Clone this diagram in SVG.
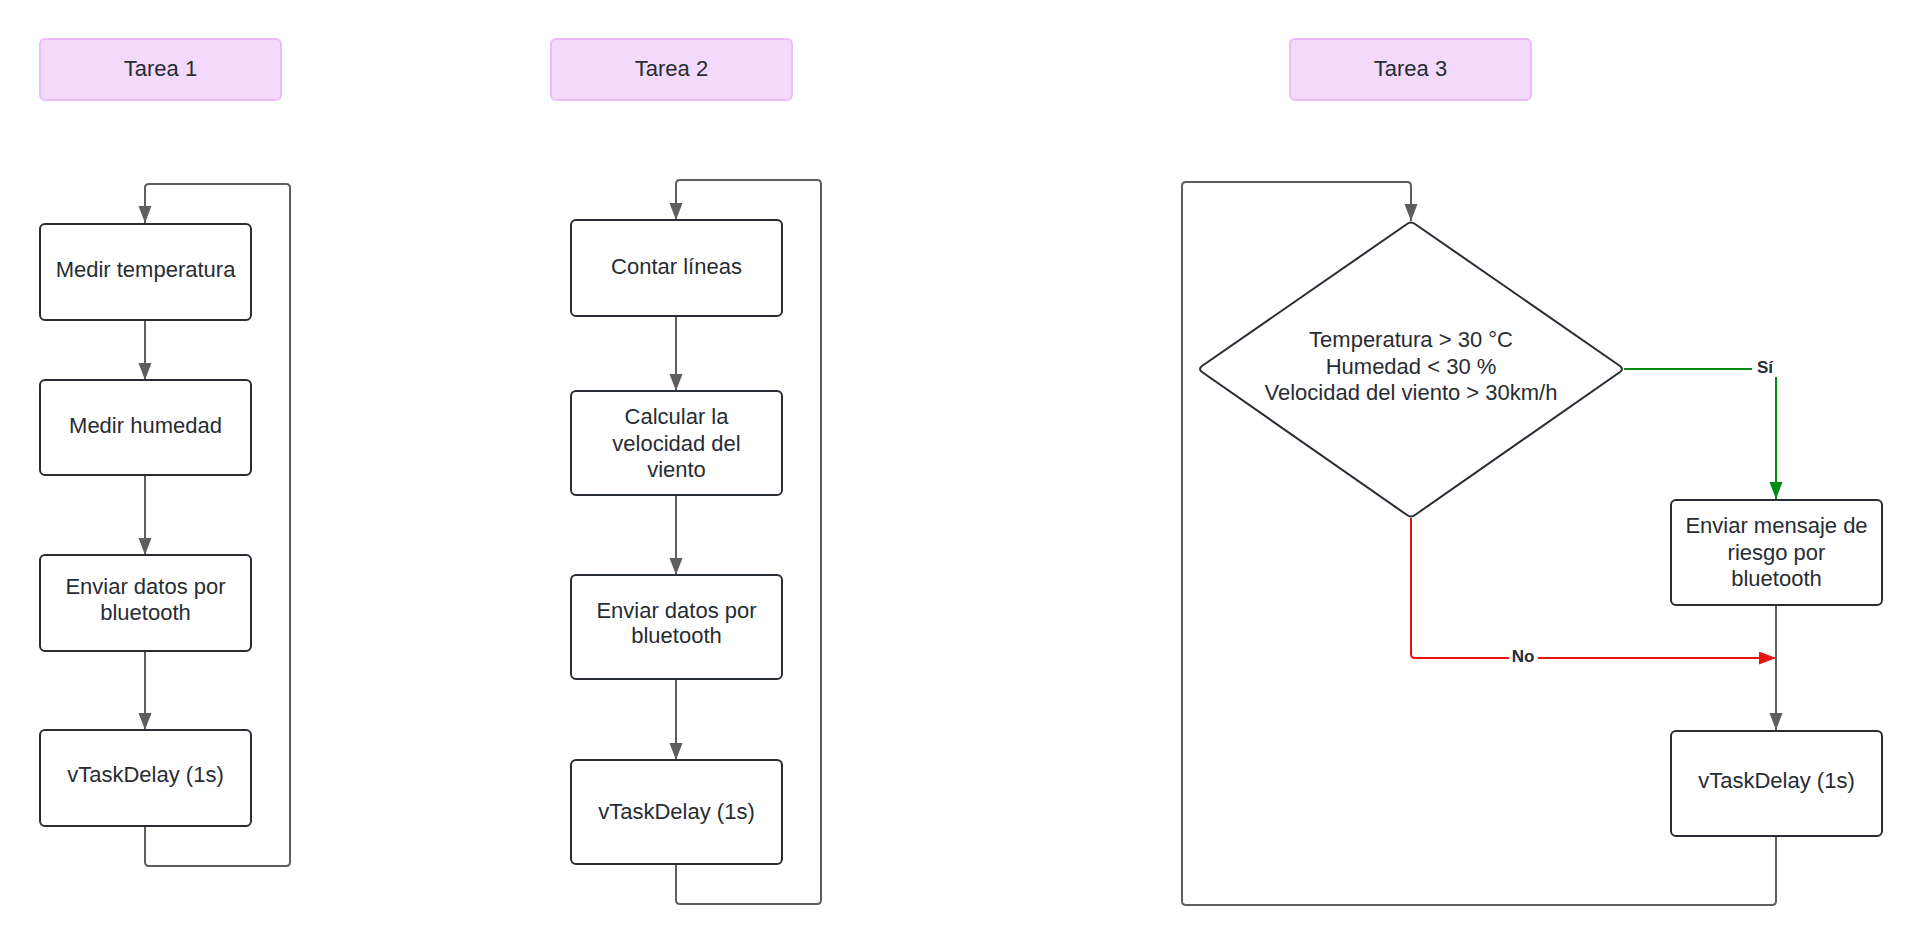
<svg xmlns="http://www.w3.org/2000/svg" width="1921" height="946" viewBox="0 0 1921 946">
<style>
.bg{fill:#ffffff}
.title rect{fill:#f3d9fb;stroke:#ebbdf8;stroke-width:2}
.node rect,.node path{fill:#ffffff;stroke:#282c33;stroke-width:2}
text{font-family:"Liberation Sans",Arial,sans-serif;font-size:22px;fill:#282c33;text-anchor:middle}
.conn path{fill:none;stroke:#5e5e5e;stroke-width:2;stroke-linejoin:round}
.conn path.g{stroke:#008a0e}
.conn path.r{stroke:#e81313}
.lbl{font-size:17px;font-weight:bold}
</style>
<defs>
<marker id="ag" markerUnits="userSpaceOnUse" markerWidth="18" markerHeight="14" refX="17" refY="6.5" orient="auto"><path d="M0,0 L17,6.5 L0,13 z" fill="#5e5e5e"/></marker>
<marker id="agr" markerUnits="userSpaceOnUse" markerWidth="18" markerHeight="14" refX="17" refY="6.5" orient="auto"><path d="M0,0 L17,6.5 L0,13 z" fill="#008a0e"/></marker>
<marker id="ar" markerUnits="userSpaceOnUse" markerWidth="18" markerHeight="14" refX="17" refY="6.5" orient="auto"><path d="M0,0 L17,6.5 L0,13 z" fill="#e81313"/></marker>
</defs>
<rect class="bg" x="0" y="0" width="1921" height="946"/>

<g id="connectors" class="conn">
<!-- Tarea 1 -->
<path d="M145,320 V380" marker-end="url(#ag)"/>
<path d="M145,475 V555" marker-end="url(#ag)"/>
<path d="M145,651 V730" marker-end="url(#ag)"/>
<path d="M145,826 V862 Q145,866 149,866 H286 Q290,866 290,862 V188 Q290,184 286,184 H149 Q145,184 145,188 V223" marker-end="url(#ag)"/>
<!-- Tarea 2 -->
<path d="M676,316 V391" marker-end="url(#ag)"/>
<path d="M676,495 V575" marker-end="url(#ag)"/>
<path d="M676,679 V760" marker-end="url(#ag)"/>
<path d="M676,864 V900 Q676,904 680,904 H817 Q821,904 821,900 V184 Q821,180 817,180 H680 Q676,180 676,184 V220" marker-end="url(#ag)"/>
<!-- Tarea 3 -->
<path d="M1776,836 V901 Q1776,905 1772,905 H1186 Q1182,905 1182,901 V186 Q1182,182 1186,182 H1407 Q1411,182 1411,186 V221" marker-end="url(#ag)"/>
<path class="g" d="M1624,369 H1772 Q1776,369 1776,373 V499" marker-end="url(#agr)"/>
<path class="r" d="M1411,518 V654 Q1411,658 1415,658 H1776" marker-end="url(#ar)"/>
<path d="M1776,605 V730" marker-end="url(#ag)"/>
<rect x="1752" y="359" width="25" height="18" fill="#ffffff"/>
<text class="lbl" x="1765" y="373">Sí</text>
<rect x="1509" y="648" width="29" height="18" fill="#ffffff"/>
<text class="lbl" x="1523" y="662">No</text>
</g>

<g id="t1" class="title"><rect x="40" y="39" width="241" height="61" rx="5"/><text x="160.5" y="76">Tarea 1</text></g>
<g id="t2" class="title"><rect x="551" y="39" width="241" height="61" rx="5"/><text x="671.5" y="76">Tarea 2</text></g>
<g id="t3" class="title"><rect x="1290" y="39" width="241" height="61" rx="5"/><text x="1410.5" y="76">Tarea 3</text></g>

<g id="n1a" class="node"><rect x="40" y="224" width="211" height="96" rx="5"/><text x="145.5" y="277">Medir temperatura</text></g>
<g id="n1b" class="node"><rect x="40" y="380" width="211" height="95" rx="5"/><text x="145.5" y="433">Medir humedad</text></g>
<g id="n1c" class="node"><rect x="40" y="555" width="211" height="96" rx="5"/><text x="145.5" y="594">Enviar datos por</text><text x="145.5" y="620">bluetooth</text></g>
<g id="n1d" class="node"><rect x="40" y="730" width="211" height="96" rx="5"/><text x="145.5" y="782">vTaskDelay (1s)</text></g>

<g id="n2a" class="node"><rect x="571" y="220" width="211" height="96" rx="5"/><text x="676.5" y="274">Contar líneas</text></g>
<g id="n2b" class="node"><rect x="571" y="391" width="211" height="104" rx="5"/><text x="676.5" y="424">Calcular la</text><text x="676.5" y="450.5">velocidad del</text><text x="676.5" y="477">viento</text></g>
<g id="n2c" class="node"><rect x="571" y="575" width="211" height="104" rx="5"/><text x="676.5" y="618">Enviar datos por</text><text x="676.5" y="643">bluetooth</text></g>
<g id="n2d" class="node"><rect x="571" y="760" width="211" height="104" rx="5"/><text x="676.5" y="819">vTaskDelay (1s)</text></g>

<g id="n3a" class="node"><path d="M1407,224 Q1411,221 1415,224 L1620,366 Q1624,369 1620,372 L1415,515 Q1411,518 1407,515 L1202,372 Q1198,369 1202,366 Z"/><text x="1411" y="347">Temperatura &gt; 30 °C</text><text x="1411" y="373.5">Humedad &lt; 30 %</text><text x="1411" y="400">Velocidad del viento &gt; 30km/h</text></g>
<g id="n3b" class="node"><rect x="1671" y="500" width="211" height="105" rx="5"/><text x="1776.5" y="533">Enviar mensaje de</text><text x="1776.5" y="559.5">riesgo por</text><text x="1776.5" y="586">bluetooth</text></g>
<g id="n3c" class="node"><rect x="1671" y="731" width="211" height="105" rx="5"/><text x="1776.5" y="788">vTaskDelay (1s)</text></g>
</svg>
